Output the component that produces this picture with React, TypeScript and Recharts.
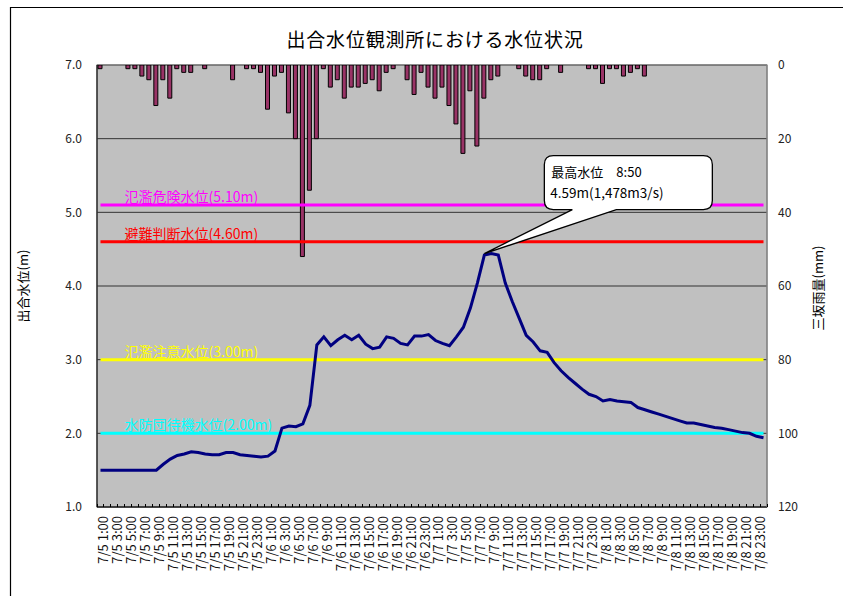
import React from 'react';
import {
  ComposedChart,
  Bar,
  Line,
  XAxis,
  YAxis,
  CartesianGrid,
  ReferenceLine,
  ReferenceDot,
  ReferenceArea,
} from 'recharts';

const FONT = "'Noto Sans CJK JP', 'Noto Sans', sans-serif";

// ---- categories (hourly, 7/5 1:00 .. 7/9 0:00) ----
const days = ['7/5', '7/6', '7/7', '7/8', '7/9'];
const categories: string[] = [];
for (let i = 0; i < 96; i++) {
  const h = (i + 1) % 24;
  const d = Math.floor((i + 1) / 24);
  categories.push(`${days[d]} ${h}:00`);
}

// ---- 出合水位 (m) ----
const waterLevel: number[] = [
  1.5, 1.5, 1.5, 1.5, 1.5, 1.5, 1.5, 1.5, 1.5, 1.58,
  1.65, 1.7, 1.72, 1.75, 1.74, 1.72, 1.71, 1.71, 1.74, 1.74,
  1.71, 1.7, 1.69, 1.68, 1.69, 1.76, 2.07, 2.1, 2.09, 2.13,
  2.38, 3.2, 3.31, 3.19, 3.27, 3.33, 3.27, 3.33, 3.21, 3.15,
  3.17, 3.31, 3.29, 3.22, 3.2, 3.32, 3.32, 3.34, 3.26, 3.22,
  3.19, 3.31, 3.44, 3.7, 4.04, 4.42, 4.44, 4.42, 4.04, 3.79,
  3.56, 3.33, 3.24, 3.12, 3.1, 2.96, 2.85, 2.76, 2.68, 2.6,
  2.53, 2.5, 2.44, 2.46, 2.44, 2.43, 2.42, 2.35, 2.32, 2.29,
  2.26, 2.23, 2.2, 2.17, 2.14, 2.14, 2.12, 2.1, 2.08, 2.07,
  2.05, 2.03, 2.01, 2.0, 1.96, 1.94,
];

// ---- 三坂雨量 (mm) ----
const rainfall: number[] = [
  1, 0, 0, 0, 1, 1, 3, 4, 11, 4,
  9, 1, 2, 2, 0, 1, 0, 0, 0, 4,
  0, 1, 1, 2, 12, 3, 2, 13, 20, 52,
  34, 20, 1, 6, 4, 9, 6, 6, 5, 4,
  7, 2, 1, 0, 4, 8, 2, 6, 9, 6,
  11, 16, 24, 7, 22, 9, 4, 3, 0, 0,
  1, 3, 4, 4, 1, 0, 2, 0, 0, 0,
  1, 1, 5, 1, 1, 3, 2, 1, 3, 0,
  0, 0, 0, 0, 0, 0, 0, 0, 0, 0,
  0, 0, 0, 0, 0, 0,
];

// ---- thresholds ----
const thresholdLevels = [5.1, 4.6, 3.0, 2.0];
const thresholdLabels = [
  '氾濫危険水位(5.10m)',
  '避難判断水位(4.60m)',
  '氾濫注意水位(3.00m)',
  '水防団待機水位(2.00m)',
];
const thresholdColors = ['#FF00FF', '#FF0000', '#FFFF00', '#00FFFF'];

// ---- axis ticks ----
const levelTicks = [1, 2, 3, 4, 5, 6, 7];
const rainTicks = [0, 20, 40, 60, 80, 100, 120];

// ---- annotation ----
const peakCategory = categories[55];
const peakLevel = 4.44;
const peakTitle = '最高水位';
const peakTime = '8:50';
const peakText = '4.59m(1,478m3/s)';

const data = categories.map((t, i) => ({
  time: t,
  level: waterLevel[i],
  rain: rainfall[i] === 0 ? null : rainfall[i],
}));

const XTick = (props: any) => {
  const { x, y, payload, index, width, visibleTicksCount } = props;
  const bw = width && visibleTicksCount ? width / visibleTicksCount : 6.976;
  const i = typeof index === 'number' ? index : payload?.index ?? 0;
  const lx = x + 2.5;
  const ly = y + 9;
  return (
    <g>
      {i === 0 && (
        <line x1={x - bw / 2} x2={x - bw / 2} y1={y} y2={y - 3} stroke="#000" shapeRendering="crispEdges" />
      )}
      <line x1={x + bw / 2} x2={x + bw / 2} y1={y} y2={y - 3} stroke="#000" shapeRendering="crispEdges" />
      {i % 2 === 0 && (
        <text
          x={lx}
          y={ly}
          transform={`rotate(-90, ${lx}, ${ly})`}
          textAnchor="end"
          dominantBaseline="central"
          fontSize={13}
          fill="#111"
          fontFamily={FONT}
        >
          {payload.value}
        </text>
      )}
    </g>
  );
};

const Callout = (props: any) => {
  const { cx, cy } = props;
  if (cx == null || cy == null) return null;
  const L = cx + 60;
  const R = cx + 228;
  const T = cy - 98;
  const B = cy - 44;
  const r = 9;
  const w1 = cx + 88;
  const w2 = cx + 132;
  const d = `M ${L + r} ${T} H ${R - r} Q ${R} ${T} ${R} ${T + r} V ${B - r} Q ${R} ${B} ${R - r} ${B} H ${w2} L ${cx} ${cy} L ${w1} ${B} H ${L + r} Q ${L} ${B} ${L} ${B - r} V ${T + r} Q ${L} ${T} ${L + r} ${T} Z`;
  return (
    <g>
      <path d={d} fill="#fff" stroke="#000" strokeWidth={1.3} />
      <text x={L + 7} y={T + 16} dominantBaseline="central" fontSize={13} fill="#000" fontFamily={FONT}>
        {peakTitle + '\u3000' + peakTime}
      </text>
      <text x={L + 6} y={T + 36} dominantBaseline="central" fontSize={13.5} fill="#000" fontFamily={FONT}>
        {peakText}
      </text>
    </g>
  );
};

const makeLabel = (text: string, color: string) => (props: any) => {
  const vb = props.viewBox || {};
  const x = (vb.x ?? 97) + 24;
  const y = (vb.y ?? 0) - 9;
  return (
    <text x={x} y={y} dominantBaseline="central" fontSize={14} fill={color} fontFamily={FONT}>
      {text}
    </text>
  );
};

export default function App() {
  return (
    <div style={{ position: 'absolute', left: 0, top: 0, width: 843, height: 596, background: '#fff', overflow: 'hidden' }}>
      <ComposedChart
        width={843}
        height={596}
        data={data}
        margin={{ top: 65, right: 36, bottom: 9, left: 57 }}
      >
        <CartesianGrid yAxisId="left" vertical={false} stroke="#333" fill="#C0C0C0" fillOpacity={1} />
        <ReferenceArea yAxisId="left" y1={1} y2={7} fill="none" stroke="#808080" strokeWidth={1.2} ifOverflow="visible" />
        <XAxis
          dataKey="time"
          interval={0}
          height={80}
          tickSize={0}
          tickMargin={0}
          tickLine={false}
          axisLine={{ stroke: '#000' }}
          tick={<XTick />}
        />
        <YAxis
          yAxisId="left"
          orientation="left"
          width={40}
          domain={[1, 7]}
          ticks={levelTicks}
          tickFormatter={(v: number) => v.toFixed(1)}
          tickLine={false}
          tickSize={8}
          tickMargin={7}
          axisLine={{ stroke: '#000' }}
          tick={{ fontSize: 12, fill: '#222', fontFamily: FONT }}
          allowDataOverflow
        />
        <YAxis
          yAxisId="right"
          orientation="right"
          width={40}
          domain={[0, 120]}
          reversed
          ticks={rainTicks}
          tickLine={false}
          tickSize={6}
          tickMargin={5}
          axisLine={{ stroke: '#808080' }}
          tick={{ fontSize: 12, fill: '#222', fontFamily: FONT }}
          allowDataOverflow
        />
        <Bar
          yAxisId="right"
          dataKey="rain"
          barSize={4}
          fill="#993366"
          stroke="#000"
          strokeWidth={1}
          isAnimationActive={false}
        />
        {thresholdLevels.map((lv, k) => (
          <ReferenceLine
            key={k}
            yAxisId="left"
            segment={[
              { x: categories[0], y: lv },
              { x: categories[categories.length - 1], y: lv },
            ]}
            stroke={thresholdColors[k]}
            strokeWidth={3}
            label={makeLabel(thresholdLabels[k], thresholdColors[k])}
            ifOverflow="visible"
          />
        ))}
        <Line
          yAxisId="left"
          dataKey="level"
          type="linear"
          stroke="#000080"
          strokeWidth={3}
          dot={false}
          activeDot={false}
          isAnimationActive={false}
        />
        <ReferenceDot
          yAxisId="left"
          x={peakCategory}
          y={peakLevel}
          r={1}
          ifOverflow="visible"
          shape={(p: any) => <Callout {...p} />}
        />
      </ComposedChart>
      <svg
        width={843}
        height={596}
        style={{ position: 'absolute', left: 0, top: 0, pointerEvents: 'none' }}
      >
        <line x1={10} y1={7.5} x2={843} y2={7.5} stroke="#000" strokeWidth={1.2} />
        <line x1={10.5} y1={7} x2={10.5} y2={596} stroke="#000" strokeWidth={1.2} />
        <text x={435} y={38} textAnchor="middle" dominantBaseline="central" fontSize={19} letterSpacing={0.8} fill="#000" fontFamily={FONT}>
          出合水位観測所における水位状況
        </text>
        <text x={22} y={286} transform="rotate(-90, 22, 286)" textAnchor="middle" dominantBaseline="central" fontSize={13} fill="#000" fontFamily={FONT}>
          出合水位(m)
        </text>
        <text x={817} y={288} transform="rotate(-90, 817, 288)" textAnchor="middle" dominantBaseline="central" fontSize={13} fill="#000" fontFamily={FONT}>
          三坂雨量(mm)
        </text>
      </svg>
    </div>
  );
}
